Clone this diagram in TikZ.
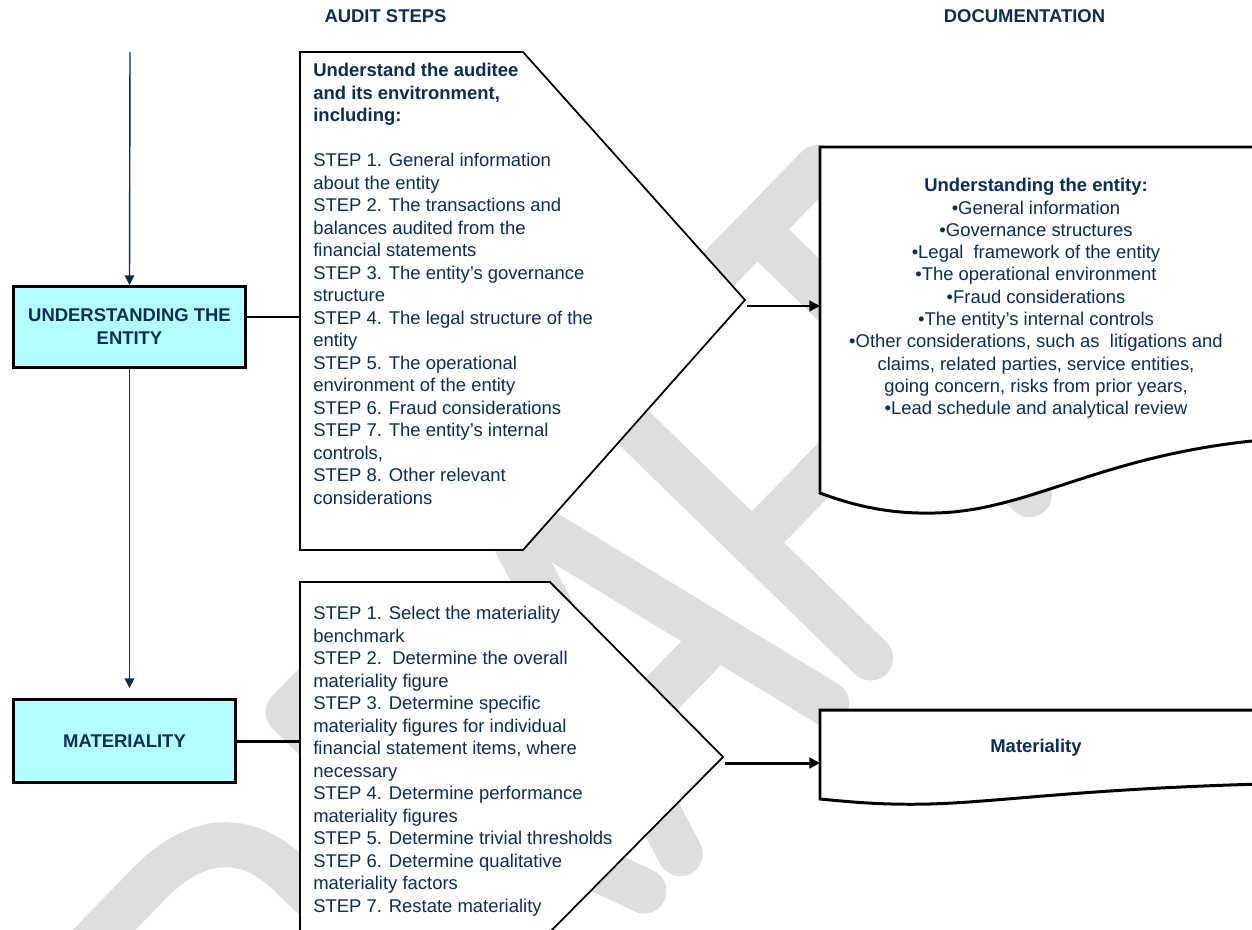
\documentclass[tikz,border=0pt]{standalone}
\usepackage{fontspec}
\setmainfont{Liberation Sans}
\usetikzlibrary{arrows.meta}

\definecolor{navy}{RGB}{12,44,92}
\definecolor{boxcyan}{RGB}{179,255,255}
\definecolor{wmgray}{RGB}{222,222,222}

\tikzset{
  keybox/.style={draw=black, line width=1.7pt, fill=boxcyan, text=navy,
    font=\bfseries\fontsize{10.5}{13.1}\selectfont, align=center, inner sep=0pt},
  steptext/.style={text=navy, font=\fontsize{10.5}{12.8}\selectfont,
    align=left, inner sep=0pt, anchor=north west},
  doctext/.style={text=navy, font=\fontsize{10.5}{12.7}\selectfont,
    align=center, inner sep=0pt, anchor=north},
  heading/.style={text=navy, font=\bfseries\fontsize{10.5}{12}\selectfont, inner sep=0pt},
  stepshape/.style={draw=black, line width=1pt, fill=white},
  docshape/.style={draw=black, line width=1.7pt, fill=white},
  link/.style={line width=1.7pt},
  flow/.style={line width=1.7pt, -{Triangle[length=6pt,width=6pt]}},
  down/.style={navy, line width=0.8pt, -{Triangle[length=5.5pt,width=5.5pt]}},
  wmstroke/.style={wmgray, line width=0.9cm, line cap=round, line join=round}
}

\begin{document}
\begin{tikzpicture}[x=0.02cm, y=-0.02cm]
\useasboundingbox (0,0) rectangle (1252,930);
\clip (0,0) rectangle (1252,930);

% watermark
\begin{scope}[shift={(794.4,772.3)}, rotate=45.8, yscale=-1]
  \draw[wmstroke] (-640,25) -- (-640,385) -- (-530,385)
    .. controls (-462,385) and (-425,352) .. (-425,290) -- (-425,130)
    .. controls (-425,60) and (-455,25) .. (-530,25) -- cycle;
  \draw[wmstroke] (-310,25) -- (-310,405) -- (-245,405)
    .. controls (-175,405) and (-170,215) .. (-245,215) -- (-310,215)
    (-255,215) -- (-190,25);
  \draw[wmstroke] (-138,25) -- (-15,405) -- (72,25) (-98,150) -- (43,150);
  \draw[wmstroke] (290,405) -- (135,405) -- (135,25) (135,190) -- (255,190);
  \draw[wmstroke] (245,405) -- (450,405) (363,405) -- (363,25);
\end{scope}

% headings
\node[heading] (hsteps) at (385.5,16) {AUDIT STEPS};
\node[heading] (hdoc) at (1024.5,16) {DOCUMENTATION};

% left column
\node[keybox, minimum width=4.64cm, minimum height=1.62cm] (und) at (129.5,327) {UNDERSTANDING THE\\ENTITY};
\node[keybox, minimum width=4.44cm, minimum height=1.66cm] (mat) at (124.5,741) {MATERIALITY};

% audit steps
\draw[stepshape] (300,52) coordinate (s1nw) -- (523,52) -- (745,300) -- (523,550) -- (300,550) -- cycle;
\draw[stepshape] (300,582) coordinate (s2nw) -- (550,582) -- (723,757) -- (550,932) -- (300,932) -- cycle;
\coordinate (s1out) at (747,306);
\coordinate (s2out) at (725,763);

\node[steptext] (s1txt) at (313,63) {\textbf{Understand the auditee}\\
  \textbf{and its envitronment,}\\
  \textbf{including:}\\[12.8pt]
  STEP 1. General information\\
  about the entity\\
  STEP 2. The transactions and\\
  balances audited from the\\
  financial statements\\
  STEP 3. The entity’s governance\\
  structure\\
  STEP 4. The legal structure of the\\
  entity\\
  STEP 5. The operational\\
  environment of the entity\\
  STEP 6. Fraud considerations\\
  STEP 7. The entity’s internal\\
  controls,\\
  STEP 8. Other relevant\\
  considerations};

\node[steptext] (s2txt) at (313,606) {STEP 1. Select the materiality\\
  benchmark\\
  STEP 2.\ \ Determine the overall\\
  materiality figure\\
  STEP 3. Determine specific\\
  materiality figures for individual\\
  financial statement items, where\\
  necessary\\
  STEP 4. Determine performance\\
  materiality figures\\
  STEP 5. Determine trivial thresholds\\
  STEP 6. Determine qualitative\\
  materiality factors\\
  STEP 7. Restate materiality};

% documentation
\draw[docshape] (820,147) coordinate (d1nw) -- (1262,147) -- (1262,440)
  .. controls (1100,455) and (1030,511) .. (935,513)
  .. controls (895,514) and (860,508) .. (820,493) -- cycle;
\draw[docshape] (820,710) coordinate (d2nw) -- (1262,710) -- (1262,784)
  .. controls (1080,789) and (1000,802) .. (930,804)
  .. controls (890,805) and (860,803) .. (820,799) -- cycle;

\node[doctext] (d1txt) at (1036,178) {\textbf{Understanding the entity:}\\
  •General information\\
  •Governance structures\\
  •Legal\ \ framework of the entity\\
  •The operational environment\\
  •Fraud considerations\\
  •The entity’s internal controls\\
  •Other considerations, such as\ \ litigations and\\
  claims, related parties, service entities,\\
  going concern, risks from prior years,\\
  •Lead schedule and analytical review};
\node[heading] (d2txt) at (1036,748) {Materiality};

% connectors
\coordinate (top) at (130,52);
\draw[down] (top) -- (und.north);
\draw[down, shorten >=0.2cm] (und.south) -- (und.south |- mat.north);
\draw[link] ([yshift=0.2cm]und.east) -- ([yshift=0.2cm]und.east -| s1nw);
\draw[link] (mat.east) -- (mat.east -| s2nw);
\draw[flow] (s1out) -- (s1out -| d1nw);
\draw[flow] (s2out) -- (s2out -| d2nw);
\end{tikzpicture}
\end{document}
